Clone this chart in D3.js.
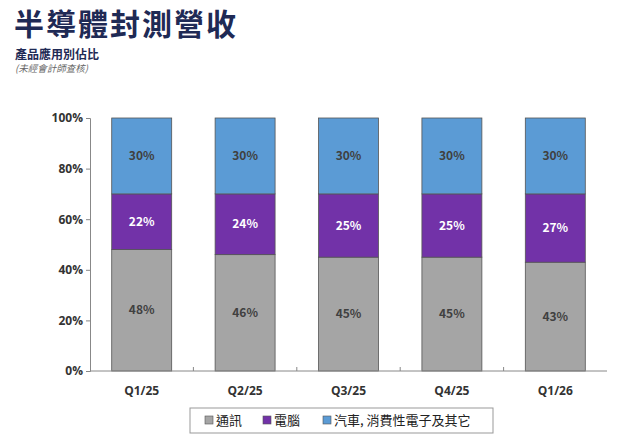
<!DOCTYPE html>
<html><head><meta charset="utf-8">
<script src="https://cdn.jsdelivr.net/npm/d3@7"></script>
<style>body{margin:0;background:#fff;font-family:"Noto Sans CJK TC","Noto Sans",sans-serif}</style>
</head><body><div id="chart"></div>
<script>
const categories = ["Q1/25", "Q2/25", "Q3/25", "Q4/25", "Q1/26"];
const comm = [48, 46, 45, 45, 43];
const pc = [22, 24, 25, 25, 27];
const other = [30, 30, 30, 30, 30];
const seriesNames = ["通訊", "電腦", "汽車, 消費性電子及其它"];
const yTicks = [0, 20, 40, 60, 80, 100];

const width = 620, height = 443;
const colors = ["#a5a5a5", "#7232a8", "#5b9bd5"];
const labelColors = ["#404040", "#ffffff", "#404040"];

const svg = d3.select("#chart").append("svg").attr("width", width).attr("height", height);

svg.append("text").attr("x", 14).attr("y", 35).attr("fill", "#1f2a55")
  .attr("font-size", 30).attr("font-weight", 700).attr("letter-spacing", 2).text("半導體封測營收");
svg.append("text").attr("x", 15).attr("y", 59).attr("fill", "#1f2a55")
  .attr("font-size", 12).attr("font-weight", 700).text("產品應用別佔比");
svg.append("text").attr("x", 15).attr("y", 72).attr("fill", "#666")
  .attr("font-size", 9.5).attr("font-style", "italic").text("(未經會計師查核)");

const x = d3.scaleBand().domain(categories).range([90, 607]).paddingInner(0.42).paddingOuter(0.21);
const y = d3.scaleLinear().domain([0, 100]).range([371, 118]);

const rows = categories.map((c, i) => ({ cat: c, comm: comm[i], pc: pc[i], other: other[i] }));
const stack = d3.stack().keys(["comm", "pc", "other"])(rows);

const g = svg.append("g");
stack.forEach((layer, k) => {
  const grp = g.append("g");
  grp.selectAll("rect").data(layer).enter().append("rect")
    .attr("x", d => x(d.data.cat)).attr("width", x.bandwidth())
    .attr("y", d => y(d[1])).attr("height", d => y(d[0]) - y(d[1]))
    .attr("fill", colors[k]).attr("stroke", "#555").attr("stroke-width", 0.8);
  grp.selectAll("text").data(layer).enter().append("text")
    .attr("x", d => x(d.data.cat) + x.bandwidth() / 2)
    .attr("y", d => (y(d[0]) + y(d[1])) / 2 + 4)
    .attr("text-anchor", "middle").attr("font-size", 12).attr("font-weight", 700)
    .attr("fill", labelColors[k]).text(d => (d[1] - d[0]) + "%");
});

// y axis
const ya = svg.append("g").attr("transform", "translate(90,0)")
  .call(d3.axisLeft(y).tickValues(yTicks).tickFormat(d => d + "%").tickSize(4));
ya.select(".domain").attr("stroke", "#888");
ya.selectAll("line").attr("stroke", "#888");
ya.selectAll("text").attr("font-size", 12).attr("font-weight", 700).attr("fill", "#333")
  .attr("font-family", "Open Sans, sans-serif");

// x axis
const xa = svg.append("g").attr("transform", "translate(0,371)");
xa.append("line").attr("x1", 90).attr("x2", 607).attr("stroke", "#888");
const step = x.step();
categories.slice(1).forEach(c => {
  const bx = x(c) - (step - x.bandwidth()) / 2;
  xa.append("line").attr("x1", bx).attr("x2", bx).attr("y1", 0).attr("y2", -4).attr("stroke", "#888");
});
xa.selectAll("text.cat").data(categories).enter().append("text")
  .attr("x", d => x(d) + x.bandwidth() / 2).attr("y", 24).attr("text-anchor", "middle")
  .attr("font-size", 12).attr("font-weight", 700).attr("fill", "#333")
  .attr("font-family", "Open Sans, sans-serif").text(d => d);

// legend
const lg = svg.append("g");
lg.append("rect").attr("x", 190).attr("y", 408).attr("width", 303).attr("height", 25)
  .attr("fill", "#fff").attr("stroke", "#999");
const lx = [205, 263, 323];
seriesNames.forEach((n, i) => {
  lg.append("rect").attr("x", lx[i]).attr("y", 416).attr("width", 8).attr("height", 8)
    .attr("fill", colors[i]).attr("stroke", "#555").attr("stroke-width", 0.6);
  lg.append("text").attr("x", lx[i] + 11).attr("y", 425).attr("font-size", 13)
    .attr("fill", "#222").text(n);
});
</script></body></html>
